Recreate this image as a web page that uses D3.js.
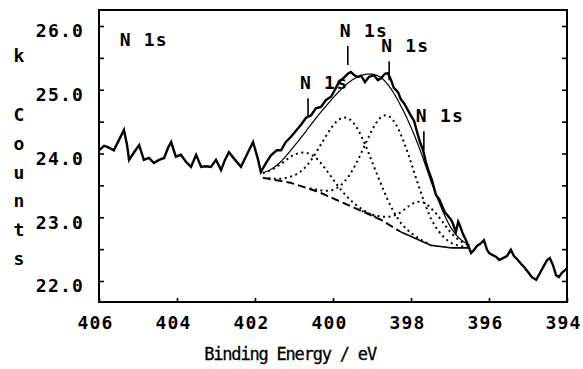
<!DOCTYPE html>
<html><head><meta charset="utf-8">
<script src="https://cdn.jsdelivr.net/npm/d3@7"></script>
<style>body{margin:0;background:#fff}svg{display:block}</style>
</head><body>
<svg id="c" width="583" height="369"></svg>
<script>
// ---- data (binding energy in eV, intensity in k counts) ----
const energy = [406.00,405.87,405.77,405.62,405.49,405.36,405.28,405.23,405.10,404.97,404.85,404.72,404.59,404.46,404.33,404.23,404.15,404.03,403.90,403.77,403.64,403.51,403.38,403.26,403.13,403.00,402.87,402.77,402.67,402.51,402.36,402.21,402.05,401.92,401.85,401.72,401.59,401.44,401.33,401.21,401.08,400.97,400.82,400.69,400.56,400.44,400.31,400.18,400.05,399.95,399.85,399.74,399.62,399.54,399.46,399.36,399.28,399.18,399.08,398.95,398.85,398.77,398.67,398.59,398.51,398.44,398.33,398.26,398.18,398.08,398.00,397.92,397.85,397.77,397.69,397.62,397.54,397.46,397.36,397.28,397.21,397.13,397.05,396.97,396.92,396.85,396.79,396.74,396.67,396.59,396.51,396.46,396.38,396.31,396.23,396.13,396.05,396.00,395.92,395.82,395.74,395.64,395.54,395.44,395.36,395.26,395.18,395.10,395.00,394.90,394.79,394.69,394.59,394.51,394.44,394.36,394.28,394.21,394.13,394.05,394.00];
const counts = [24.05,24.12,24.10,24.05,24.21,24.37,24.13,23.90,24.02,24.13,23.90,23.93,23.85,23.90,23.93,24.09,24.18,23.95,23.98,23.87,23.79,23.98,23.79,23.80,23.79,23.90,23.74,23.90,24.02,23.90,23.79,23.98,24.18,23.90,23.71,23.85,23.97,24.05,24.05,24.18,24.26,24.34,24.45,24.56,24.60,24.71,24.73,24.84,24.89,25.00,25.12,25.18,25.25,25.28,25.23,25.20,25.22,25.12,25.20,25.23,25.15,25.18,25.25,25.26,25.15,25.03,24.96,24.85,24.79,24.68,24.59,24.51,24.35,24.18,24.05,23.87,23.71,23.58,23.35,23.29,23.19,23.08,23.02,22.96,22.89,22.77,22.93,22.86,22.74,22.64,22.52,22.44,22.49,22.55,22.58,22.64,22.49,22.44,22.41,22.38,22.33,22.36,22.39,22.49,22.39,22.33,22.27,22.22,22.14,22.06,22.02,22.13,22.24,22.33,22.36,22.25,22.09,22.06,22.13,22.17,22.20];

// background (Shirley-like) curve
const bgEnergy = [401.80,401.08,400.38,399.46,398.77,398.26,397.49,396.97,396.50];
const bgCounts = [23.62,23.54,23.40,23.15,22.96,22.77,22.56,22.52,22.52];

// fitted N 1s components
const peakCenters = [400.64,399.62,398.56,397.67];
const peakHeights = [0.55,1.36,1.70,0.62];
const peakWidths  = [0.58,0.64,0.64,0.50];
const labelTipCounts = [24.57,25.39,25.15,24.05];
const peakLabel = "N 1s";

const xTicks = [406,404,402,400,398,396,394];
const yTicks = [22,22.5,23,23.5,24,24.5,25,25.5,26];
const xTitle = "Binding Energy / eV";
const yTitleTop = "k";
const yTitle = "Counts";

// ---- layout ----
const L = 99, R = 567, T = 10, B = 302;
const svg = d3.select("#c");
const x = d3.scaleLinear().domain([406,394]).range([L,R]);
const y = d3.scaleLinear().domain([22,26]).range([281,26]);
const FONT = "'DejaVu Sans Mono', monospace";

const bg = d3.scaleLinear().domain(bgEnergy).range(bgCounts);
const gauss = (e,i)=>peakHeights[i]*Math.exp(-0.5*Math.pow((e-peakCenters[i])/peakWidths[i],2));
const eMin = bgEnergy[bgEnergy.length-1], eMax = bgEnergy[0];
const grid = d3.range(eMax, eMin-1e-9, -0.02);

// frame
svg.append("rect").attr("x",L).attr("y",T).attr("width",R-L).attr("height",B-T)
  .attr("fill","none").attr("stroke","#000").attr("stroke-width",2);

// axes (inward ticks)
const yAxisL = d3.axisLeft(y).tickValues(yTicks).tickSizeInner(-5).tickSizeOuter(0).tickPadding(15)
  .tickFormat(d=>Number.isInteger(d)?d3.format(".1f")(d):"");
const gL = svg.append("g").attr("transform",`translate(${L},0)`).call(yAxisL);
const yAxisR = d3.axisRight(y).tickValues(yTicks).tickSizeInner(-5).tickSizeOuter(0).tickFormat("");
const gR = svg.append("g").attr("transform",`translate(${R},0)`).call(yAxisR);
const xAxisB = d3.axisBottom(x).tickValues(xTicks).tickSizeInner(-4).tickSizeOuter(0).tickPadding(14)
  .tickFormat(d3.format("d"));
const gB = svg.append("g").attr("transform",`translate(0,${B})`).call(xAxisB);
[gL,gR,gB].forEach(g=>{
  g.select(".domain").remove();
  g.selectAll("line").attr("stroke","#000").attr("stroke-width",1.6);
  g.selectAll("text").attr("fill","#000").attr("font-family",FONT).attr("font-weight","bold")
   .attr("font-size",18).attr("letter-spacing",1.2);
});
gL.selectAll("text").attr("dy","0.6em");
gB.selectAll("text").attr("dy","0.71em").attr("dx",-4);

// axis titles
svg.append("text").attr("x",x(401.1)).attr("y",360).attr("text-anchor","middle")
  .attr("font-family",FONT).attr("font-size",17).attr("letter-spacing",-1.2).attr("fill","#000")
  .attr("stroke","#000").attr("stroke-width",0.3)
  .text(xTitle);
svg.append("text").attr("x",19).attr("y",62).attr("text-anchor","middle")
  .attr("font-family",FONT).attr("font-weight","bold").attr("font-size",18).text(yTitleTop);
svg.selectAll("text.yt").data(yTitle.split("")).join("text").attr("class","yt")
  .attr("x",19).attr("y",(d,i)=>121+i*28.8).attr("text-anchor","middle")
  .attr("font-family",FONT).attr("font-weight","bold").attr("font-size",18).text(d=>d);

// background: dashed then solid
const line = d3.line().x(d=>x(d[0])).y(d=>y(d[1]));
const bgPts = grid.map(e=>[e,bg(e)]);
const split = 398.3;
svg.append("path").attr("d",line(bgPts.filter(p=>p[0]>=split))).attr("fill","none")
  .attr("stroke","#000").attr("stroke-width",2).attr("stroke-dasharray","8,4");
svg.append("path").attr("d",line(bgPts.filter(p=>p[0]<=split+0.02))).attr("fill","none")
  .attr("stroke","#000").attr("stroke-width",1.6);

// components (dotted)
peakCenters.forEach((c,i)=>{
  const pts = grid.filter(e=>Math.abs(e-c)<=3.2*peakWidths[i]).map(e=>[e,bg(e)+gauss(e,i)]);
  svg.append("path").attr("d",line(pts)).attr("fill","none")
    .attr("stroke","#000").attr("stroke-width",2).attr("stroke-dasharray","2,3.5");
});

// envelope
const env = grid.map(e=>[e,bg(e)+peakCenters.reduce((s,_,i)=>s+gauss(e,i),0)]);
svg.append("path").attr("d",line(env)).attr("fill","none").attr("stroke","#000").attr("stroke-width",1.2);

// measured spectrum
svg.append("path").attr("d",line(energy.map((e,i)=>[e,counts[i]]))).attr("fill","none")
  .attr("stroke","#000").attr("stroke-width",2.4).attr("stroke-linejoin","miter");

// labels
svg.append("text").attr("x",x(405.47)).attr("y",y(25.69)).attr("font-family",FONT)
  .attr("font-weight","bold").attr("font-size",18).attr("letter-spacing",1.2).text(peakLabel);
peakCenters.forEach((c,i)=>{
  const ty = y(labelTipCounts[i]);
  svg.append("line").attr("x1",x(c)).attr("x2",x(c)).attr("y1",ty-19).attr("y2",ty)
    .attr("stroke","#000").attr("stroke-width",1.6);
  svg.append("text").attr("x",x(c)-8).attr("y",ty-28).attr("font-family",FONT)
    .attr("font-weight","bold").attr("font-size",18).attr("letter-spacing",1.2).text(peakLabel);
});
</script>
</body></html>
